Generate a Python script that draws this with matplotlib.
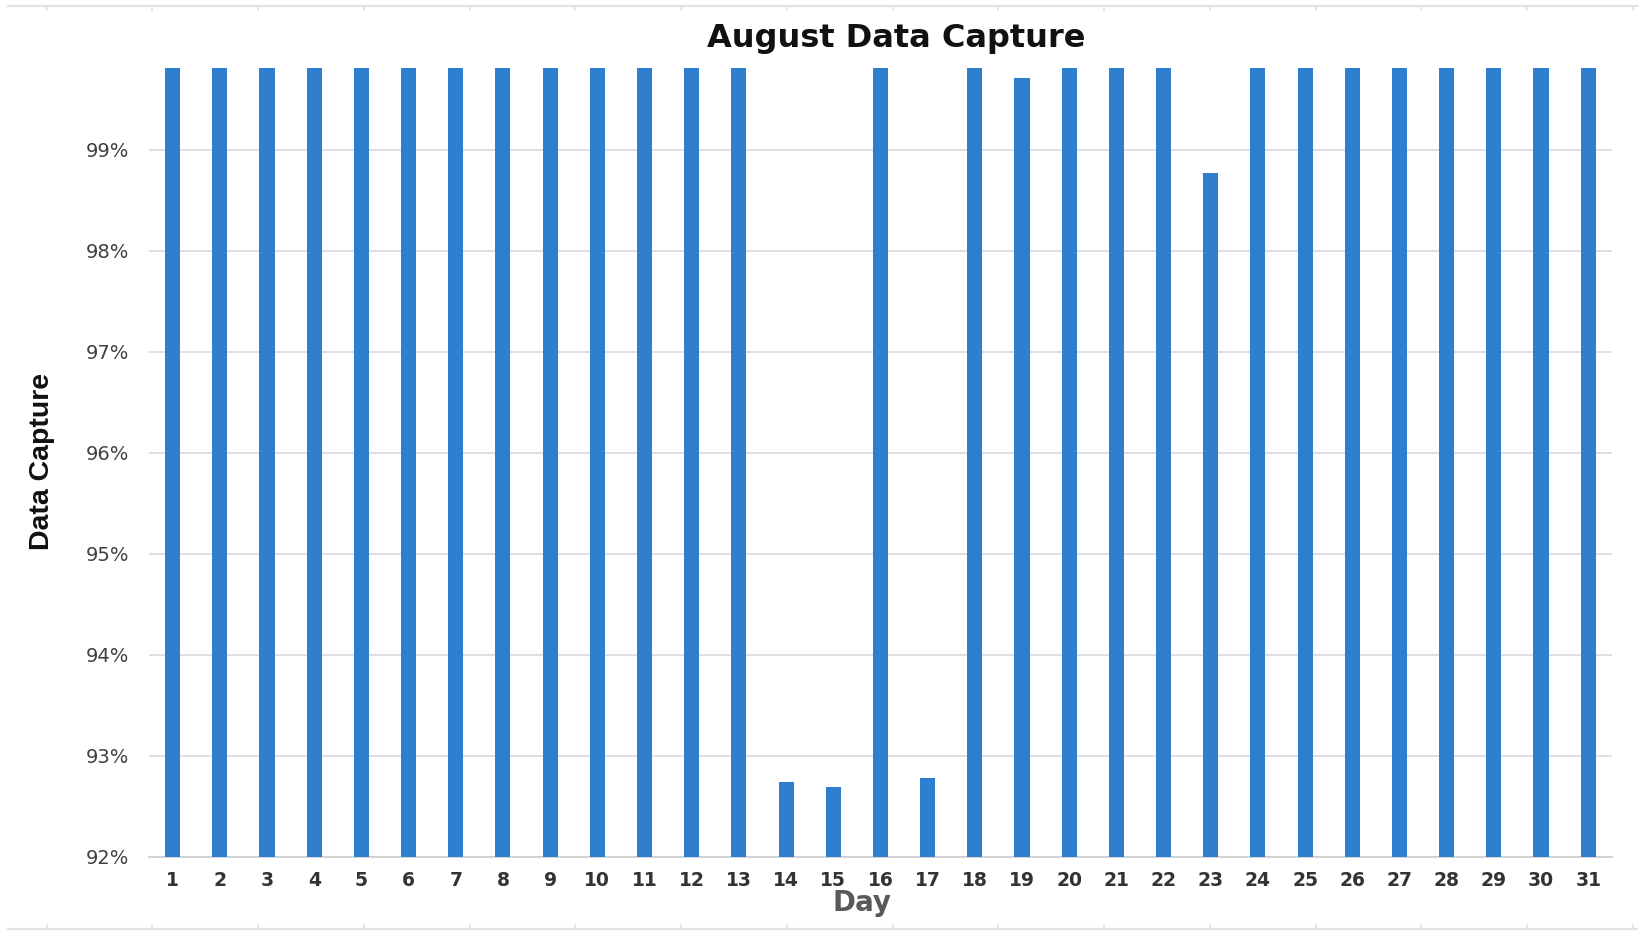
import numpy as np
import matplotlib
matplotlib.use("Agg")
import matplotlib.pyplot as plt
from matplotlib.lines import Line2D

# daily data capture (%), bars at 100% run off the top of the axis
days = list(range(1, 32))
capture = [100, 100, 100, 100, 100, 100, 100, 100, 100, 100,
           100, 100, 100, 92.74, 92.69, 100, 92.78, 100, 99.71, 100,
           100, 100, 98.77, 100, 100, 100, 100, 100, 100, 100, 100]
yticks = [92, 93, 94, 95, 96, 97, 98, 99]

plt.rcParams['font.family'] = ['DejaVu Sans']

fig = plt.figure(figsize=(16.38, 9.35), dpi=100)
ax = fig.add_axes([0.091, 0.0837, 0.893, 0.8436])

ax.bar(days, capture, width=0.32, color='#2E7FD0', zorder=3)

ax.set_xlim(0.5, 31.5)
ax.set_ylim(92, 99.81)
ax.set_yticks(yticks)
ax.set_yticklabels([f"{t}%" for t in yticks])
ax.set_xticks(days)
ax.set_xticklabels([str(d) for d in days])

ax.grid(axis='y', color='#dcdcdc', linewidth=1.3, zorder=0)
for s in ['top', 'right', 'left']:
    ax.spines[s].set_visible(False)
ax.spines['bottom'].set_color('#d0d0d0')
ax.spines['bottom'].set_linewidth(1.3)
ax.tick_params(axis='both', length=0)
ax.tick_params(axis='y', pad=14, labelsize=14, labelcolor='#404040')
ax.tick_params(axis='x', pad=10, labelsize=13.5, labelcolor='#333333')
for lb in ax.get_xticklabels():
    lb.set_fontweight('bold')

fig.text(0.547, 0.959, "August Data Capture", ha='center', va='center',
         fontsize=23, fontweight='bold', color='#111111')
fig.text(0.0256, 0.506, "Data Capture", ha='center', va='center', rotation=90,
         fontsize=20.5, fontweight='bold', color='#111111',
         family='Liberation Sans')
fig.text(0.526, 0.034, "Day", ha='center', va='center',
         fontsize=20, fontweight='bold', color='#595959')

# light page frame lines at top and bottom
W, H = 1638, 935
for yp, sign in [(6, -1), (929, 1)]:
    fig.add_artist(Line2D([8 / W, 1.0], [1 - yp / H] * 2, color='#e2e2e2', lw=1.5))
    for k in range(16):
        xp = 46.7 + k * 105.75
        fig.add_artist(Line2D([xp / W] * 2, [1 - yp / H, 1 - (yp - sign * 4) / H],
                              color='#e2e2e2', lw=1.2))

fig.savefig("out.png", dpi=100)
